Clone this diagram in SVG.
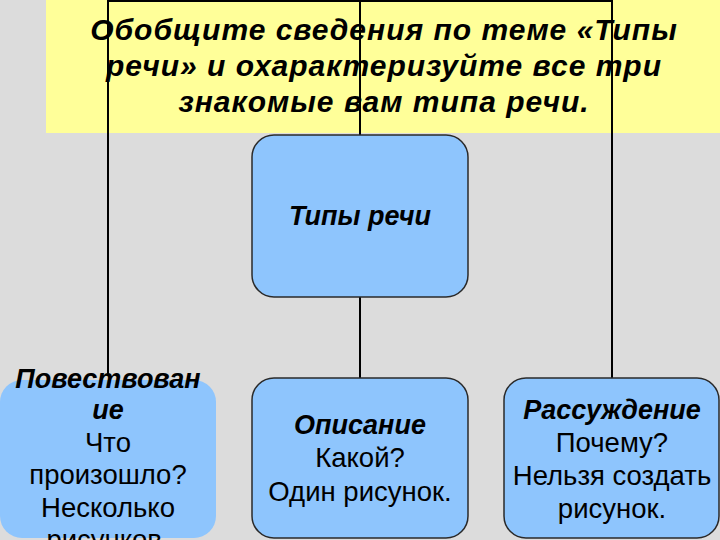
<svg xmlns="http://www.w3.org/2000/svg" width="720" height="540" viewBox="0 0 720 540">
<style>
.box{fill:#8ec5fd;stroke:#2a2a2a;stroke-width:1.5}
.t{font-family:"Liberation Sans",Arial,sans-serif;font-size:27.5px;fill:#000;text-anchor:middle}
.b{font-weight:bold;font-style:italic;font-size:27px}
.title{font-family:"Liberation Sans",Arial,sans-serif;font-size:30px;letter-spacing:1px;font-weight:bold;font-style:italic;fill:#000;text-anchor:middle}
.ln{stroke:#000;stroke-width:2;fill:none}
</style>
<rect x="0" y="0" width="720" height="540" fill="#dcdcdc"/>
<rect x="46" y="0" width="674" height="133" fill="#ffff99"/>
<g id="connectors">
<path class="ln" d="M108,374 V1 H612 V378"/>
<path class="ln" d="M360,1 V135"/>
<path class="ln" d="M360,297 V378"/>
</g>
<g id="title">
<text class="title" x="384" y="40">Обобщите сведения по теме «Типы</text>
<text class="title" x="384" y="76">речи» и охарактеризуйте все три</text>
<text class="title" x="384" y="112">знакомые вам типа речи.</text>
</g>
<g id="root">
<rect class="box" x="252" y="135" width="216" height="162" rx="22"/>
<text class="t b" x="360" y="225">Типы речи</text>
</g>
<g id="narration">
<rect x="0" y="380" width="216" height="158" rx="22" fill="#8ec5fd"/>
<text class="t b" x="108" y="388">Повествован</text>
<text class="t b" x="108" y="419">ие</text>
<text class="t" x="108" y="452">Что</text>
<text class="t" x="108" y="484">произошло?</text>
<text class="t" x="108" y="517">Несколько</text>
<text class="t" x="108" y="549">рисунков.</text>
</g>
<g id="description">
<rect class="box" x="252" y="378" width="216" height="160" rx="22"/>
<text class="t b" x="360" y="434">Описание</text>
<text class="t" x="360" y="467">Какой?</text>
<text class="t" x="360" y="501">Один рисунок.</text>
</g>
<g id="reasoning">
<rect class="box" x="504" y="378" width="215" height="160" rx="22"/>
<text class="t b" x="612" y="419">Рассуждение</text>
<text class="t" x="612" y="452">Почему?</text>
<text class="t" x="612" y="485">Нельзя создать</text>
<text class="t" x="612" y="518">рисунок.</text>
</g>
</svg>
